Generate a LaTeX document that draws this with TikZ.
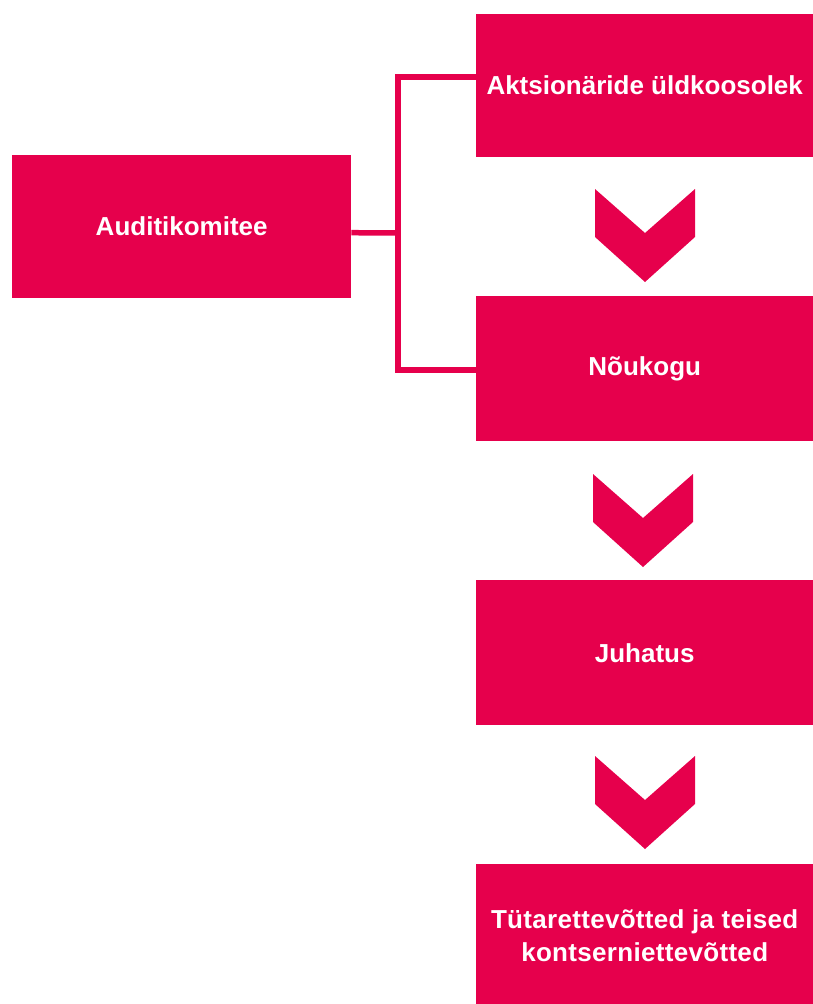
\documentclass[tikz,border=0pt]{standalone}
\usepackage{fontspec}
\setmainfont{Liberation Sans}
\definecolor{brand}{RGB}{230,0,76}
\begin{document}
\begin{tikzpicture}[x=1pt,y=-1pt,
  box/.style={fill=brand,draw=none,inner sep=0pt,anchor=north west,
    text=white,font=\fontsize{26}{33}\selectfont\bfseries,align=center},
  conn/.style={draw=brand,line width=5.5pt},
  chev/.style={fill=brand,draw=none}]
\useasboundingbox (0,0) rectangle (812,1004);
\node[box,minimum width=339pt,minimum height=143pt] (audit) at (12,155) {Auditikomitee};
\node[box,minimum width=337pt,minimum height=143pt] (aktsi) at (476,14) {Aktsionäride üldkoosolek};
\node[box,minimum width=337pt,minimum height=145pt] (nouk) at (476,296) {\raisebox{-3pt}{Nõukogu}};
\node[box,minimum width=337pt,minimum height=145pt] (juh) at (476,580) {Juhatus};
\node[box,minimum width=337pt,minimum height=143pt] (tyt) at (476,864) {\addfontfeature{LetterSpace=1.2}Tütarettevõtted ja teised\\\addfontfeature{LetterSpace=1.2}kontserniettevõtted};
\coordinate (jx) at (398,233);
\draw[conn] ([yshift=-6pt]audit.east) -- (jx);
\draw[conn] ([yshift=8.5pt]aktsi.west) -| (jx) |- ([yshift=-1.5pt]nouk.west);
\foreach \cx/\cy in {595/189,593/474,595/756}{
  \fill[chev] (\cx,\cy) -- ++(50,44) -- ++(50,-44) -- ++(0,48) -- ++(-50,45) -- ++(-50,-45) -- cycle;
}
\end{tikzpicture}
\end{document}
